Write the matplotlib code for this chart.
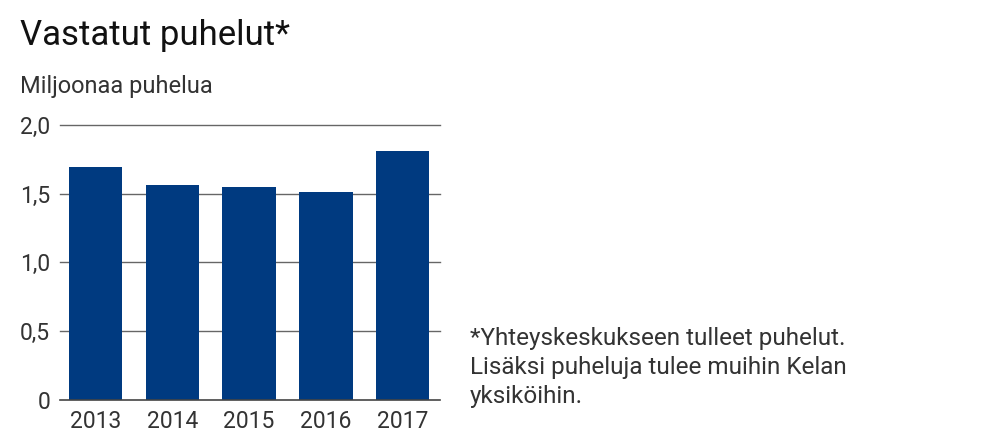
import matplotlib
matplotlib.use("Agg")
import matplotlib.pyplot as plt
import numpy as np

# data
years = ["2013", "2014", "2015", "2016", "2017"]
calls = [1.69, 1.56, 1.55, 1.51, 1.81]
yticks = [0, 0.5, 1.0, 1.5, 2.0]
ytick_labels = ["0", "0,5", "1,0", "1,5", "2,0"]

title = "Vastatut puhelut*"
unit = "Miljoonaa puhelua"
note = ["*Yhteyskeskukseen tulleet puhelut.",
        "Lisäksi puheluja tulee muihin Kelan",
        "yksiköihin."]

plt.rcParams['font.family'] = ['Roboto', 'DejaVu Sans']
txt = "#333333"
navy = "#003A80"

W, H = 1004, 444
fig = plt.figure(figsize=(W / 100, H / 100), dpi=100)
ax = fig.add_axes([60 / W, 1 - 400 / H, 380 / W, (400 - 124.7) / H])

x = np.arange(len(years))
for v in yticks[1:]:
    ax.axhline(v, color="#666666", lw=1.0, zorder=1, clip_on=False)
ax.axhline(0, color="#444444", lw=1.2, zorder=3, clip_on=False)
ax.bar(x, calls, width=0.695, color=navy, zorder=2)

ax.set_xlim(-0.465, 4.487)
ax.set_ylim(0, 2.0)
ax.set_xticks(x)
ax.set_xticklabels(years)
ax.set_yticks(yticks)
ax.set_yticklabels(ytick_labels)
ax.tick_params(axis="both", length=0, labelsize=16.5, colors=txt)
ax.tick_params(axis="y", pad=7)
ax.tick_params(axis="x", pad=7)
for s in ax.spines.values():
    s.set_visible(False)

fig.text(20 / W, 1 - 45 / H, title, fontsize=25, fontweight="normal",
         color="#111111", va="baseline", ha="left")
fig.text(20 / W, 1 - 93 / H, unit, fontsize=17, color=txt,
         va="baseline", ha="left")
base = [345, 374, 403]
for line, b in zip(note, base):
    fig.text(470 / W, 1 - b / H, line, fontsize=17.5, color=txt,
             va="baseline", ha="left")

fig.savefig("out.png", dpi=100)
